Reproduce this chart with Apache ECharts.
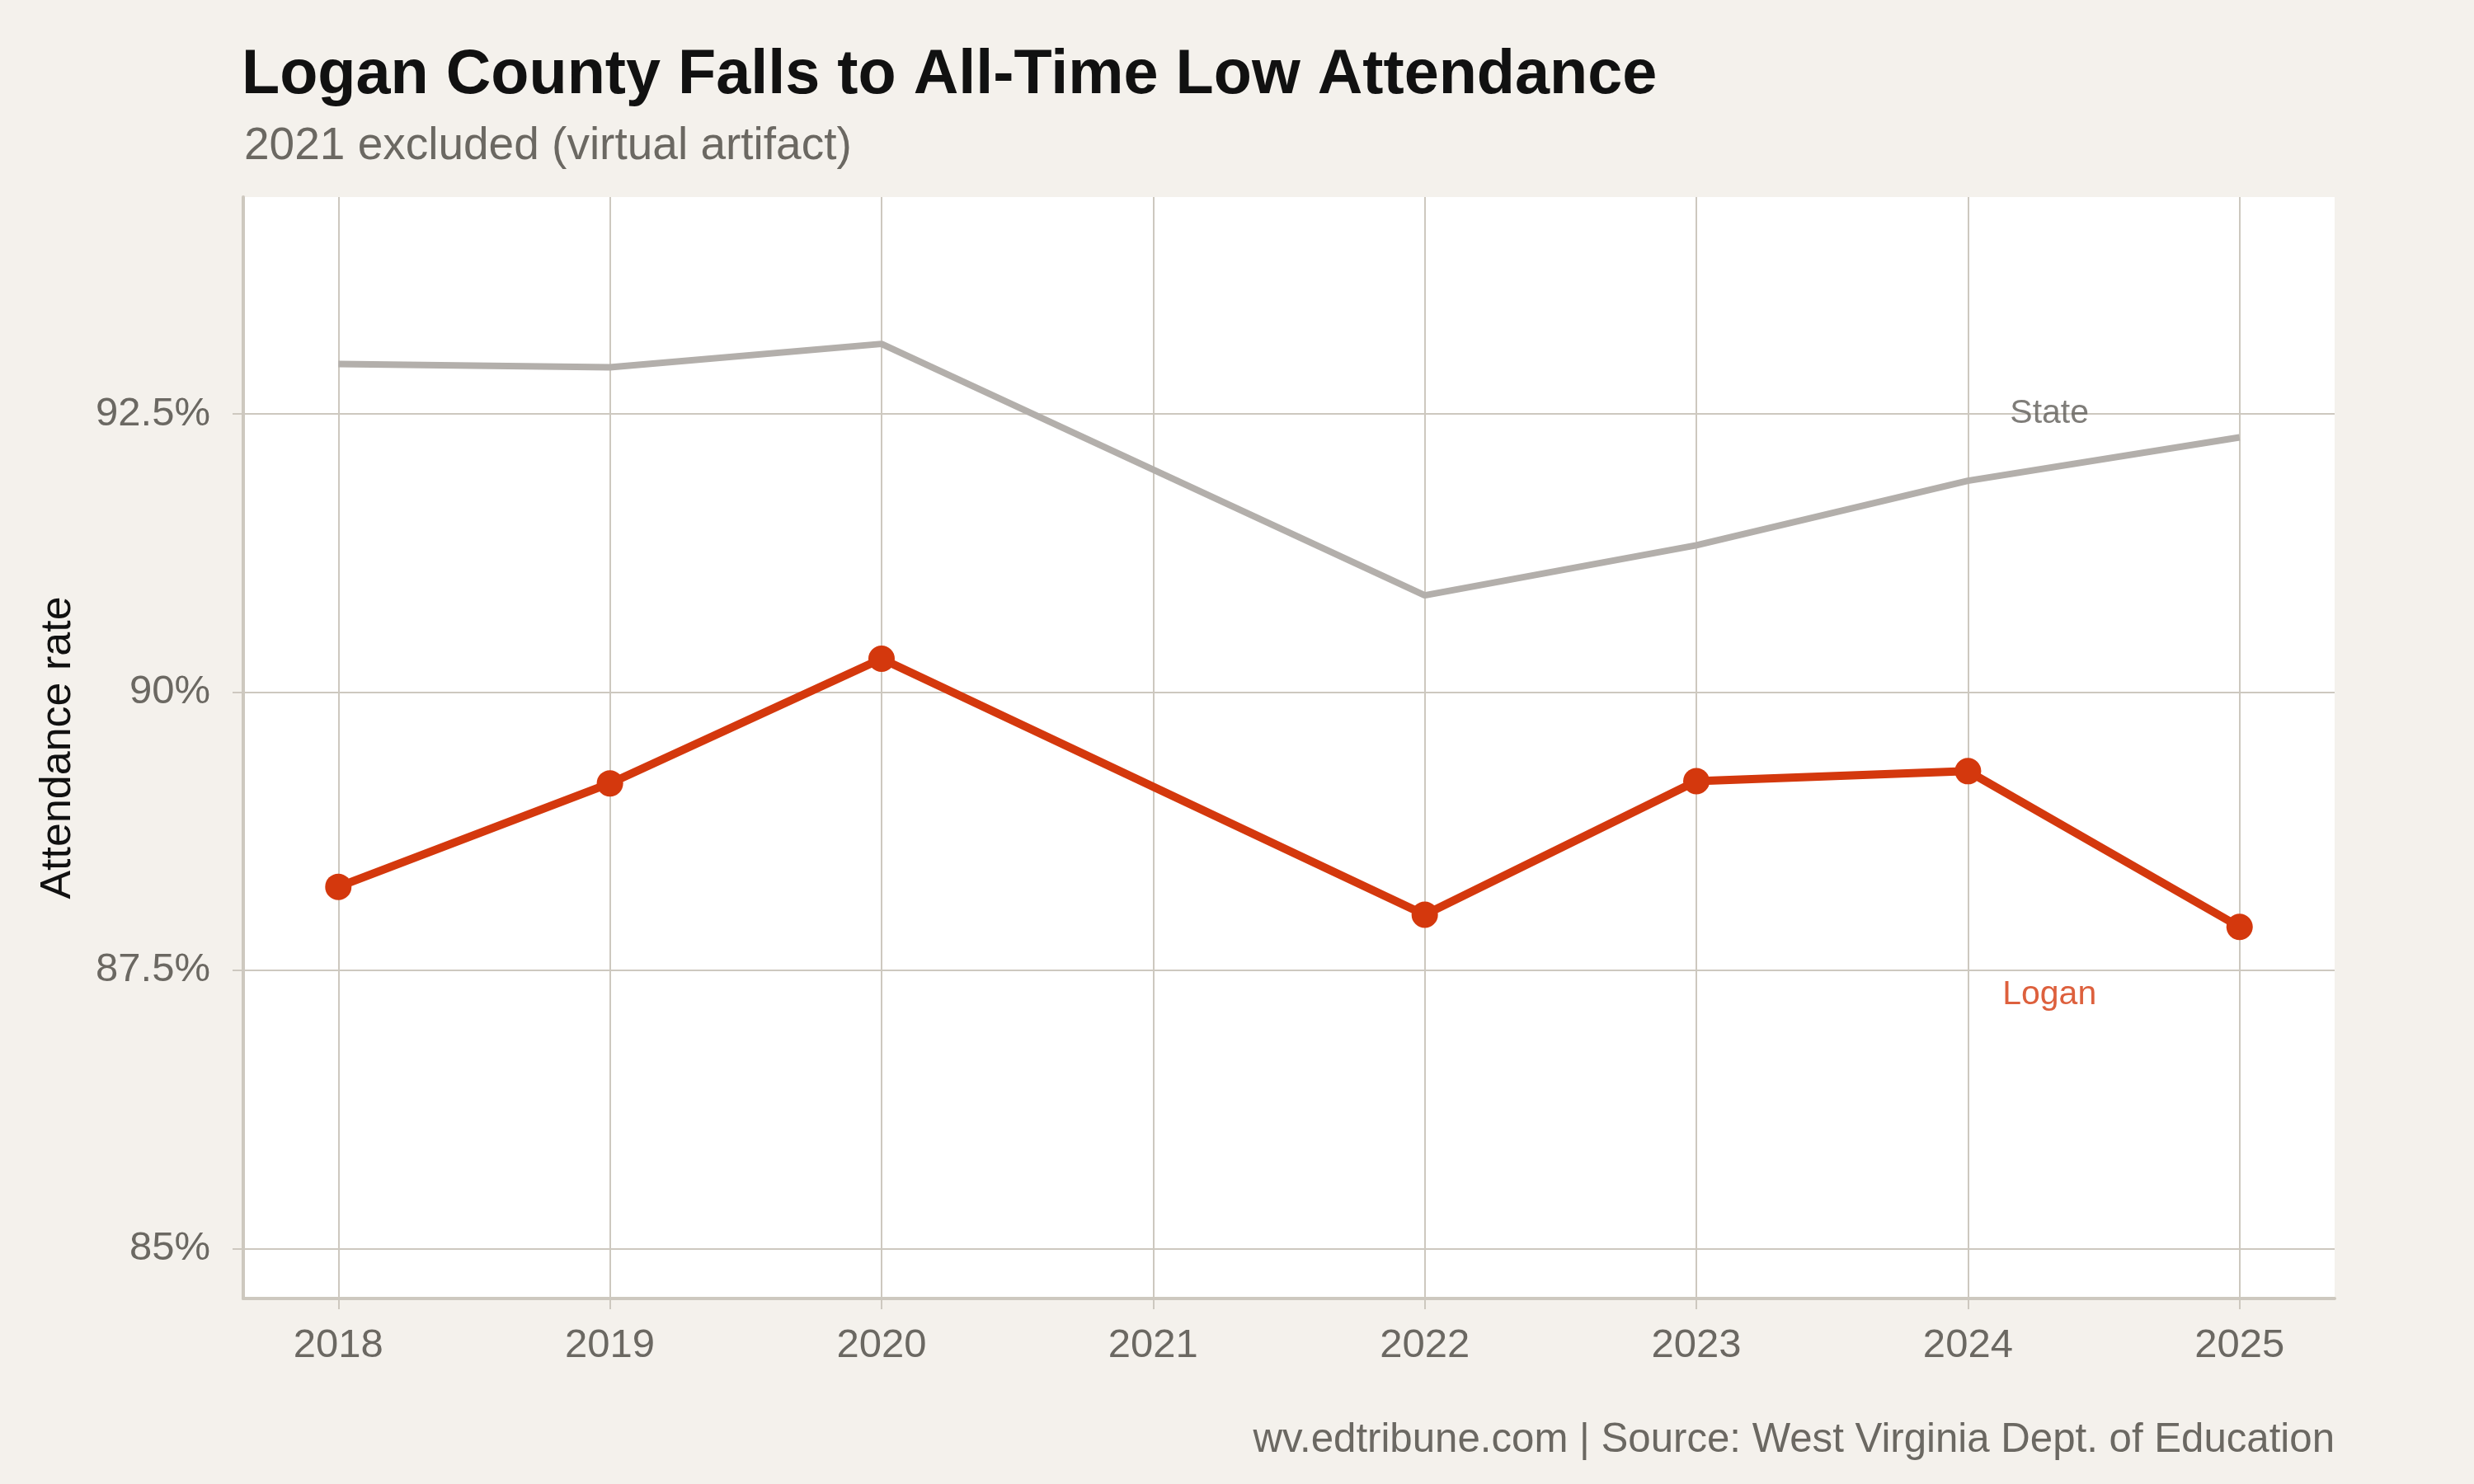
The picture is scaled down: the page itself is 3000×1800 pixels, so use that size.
<!DOCTYPE html>
<html>
<head>
<meta charset="utf-8">
<script src="https://cdn.jsdelivr.net/npm/echarts@6/dist/echarts.min.js"></script>
<style>
html,body{margin:0;padding:0;background:#f4f1ec;}
#chart{width:3000px;height:1800px;}
</style>
</head>
<body>
<div id="chart"></div>
<script>
const years = [2018, 2019, 2020, 2022, 2023, 2024, 2025];
const stateRate = [92.95, 92.92, 93.13, 90.87, 91.32, 91.90, 92.29];
const loganRate = [88.25, 89.18, 90.30, 88.00, 89.20, 89.29, 87.89];
const xTickYears = [2018, 2019, 2020, 2021, 2022, 2023, 2024, 2025];
const yTickValues = [85, 87.5, 90, 92.5];
const stateLabelPos = [2024.3, 92.5];
const loganLabelPos = [2024.3, 87.28];

const FONT = '"Liberation Sans", Arial, Helvetica, sans-serif';
const GRID = '#cdc8bf';
const TEXT_GRAY = '#6b6862';

const chart = echarts.init(document.getElementById('chart'));
chart.setOption({
  backgroundColor: '#f4f1ec',
  animation: false,
  textStyle: { fontFamily: FONT },
  title: [
    { text: 'Logan County Falls to All-Time Low Attendance', left: 288, top: 49,
      textStyle: { fontFamily: FONT, fontWeight: 'bold', fontSize: 75.6, color: '#111111' } },
    { text: '2021 excluded (virtual artifact)', left: 291, top: 145,
      textStyle: { fontFamily: FONT, fontWeight: 'normal', fontSize: 55, color: TEXT_GRAY } },
    { text: 'wv.edtribune.com | Source: West Virginia Dept. of Education', right: 164, top: 1718,
      textStyle: { fontFamily: FONT, fontWeight: 'normal', fontSize: 49.2, color: TEXT_GRAY } }
  ],
  grid: { left: 295, right: 169, top: 239, bottom: 225, show: true, backgroundColor: '#ffffff', borderWidth: 0 },
  xAxis: {
    type: 'value', min: 2017.65, max: 2025.35,
    axisLine: { show: true, lineStyle: { color: GRID, width: 4 } },
    axisTick: { show: true, length: 13, customValues: xTickYears, lineStyle: { color: GRID, width: 2 } },
    axisLabel: { show: true, customValues: xTickYears, margin: 33, fontSize: 49, color: TEXT_GRAY, fontFamily: FONT,
      formatter: v => String(Math.round(v)) },
    splitLine: { show: true, lineStyle: { color: GRID, width: 2 } }
  },
  yAxis: {
    type: 'value', min: 84.55, max: 94.45,
    name: 'Attendance rate', nameLocation: 'middle', nameGap: 198, nameRotate: 90,
    nameTextStyle: { fontSize: 52, color: '#111111', fontFamily: FONT },
    axisLine: { show: true, lineStyle: { color: GRID, width: 4 } },
    axisTick: { show: true, length: 13, customValues: yTickValues, lineStyle: { color: GRID, width: 2 } },
    axisLabel: { show: true, customValues: yTickValues, margin: 40, fontSize: 49, color: TEXT_GRAY, fontFamily: FONT,
      formatter: v => (Math.round(v * 10) / 10) + '%' },
    splitLine: { show: true, lineStyle: { color: GRID, width: 2 } }
  },
  series: [
    { name: 'State', type: 'line', data: years.map((y, i) => [y, stateRate[i]]),
      symbol: 'none', lineStyle: { color: '#b3afab', width: 8 }, z: 2 },
    { name: 'Logan', type: 'line', data: years.map((y, i) => [y, loganRate[i]]),
      symbol: 'circle', symbolSize: 32, itemStyle: { color: '#d4380d' },
      lineStyle: { color: '#d4380d', width: 10 }, z: 3 },
    { type: 'scatter', data: [stateLabelPos], symbolSize: 0, silent: true,
      label: { show: true, position: 'inside', formatter: 'State', fontSize: 41, color: '#5f5c57', fontFamily: FONT } },
    { type: 'scatter', data: [loganLabelPos], symbolSize: 0, silent: true,
      label: { show: true, position: 'inside', formatter: 'Logan', fontSize: 41, color: '#d4380d', fontFamily: FONT } }
  ]
});
</script>
</body>
</html>
